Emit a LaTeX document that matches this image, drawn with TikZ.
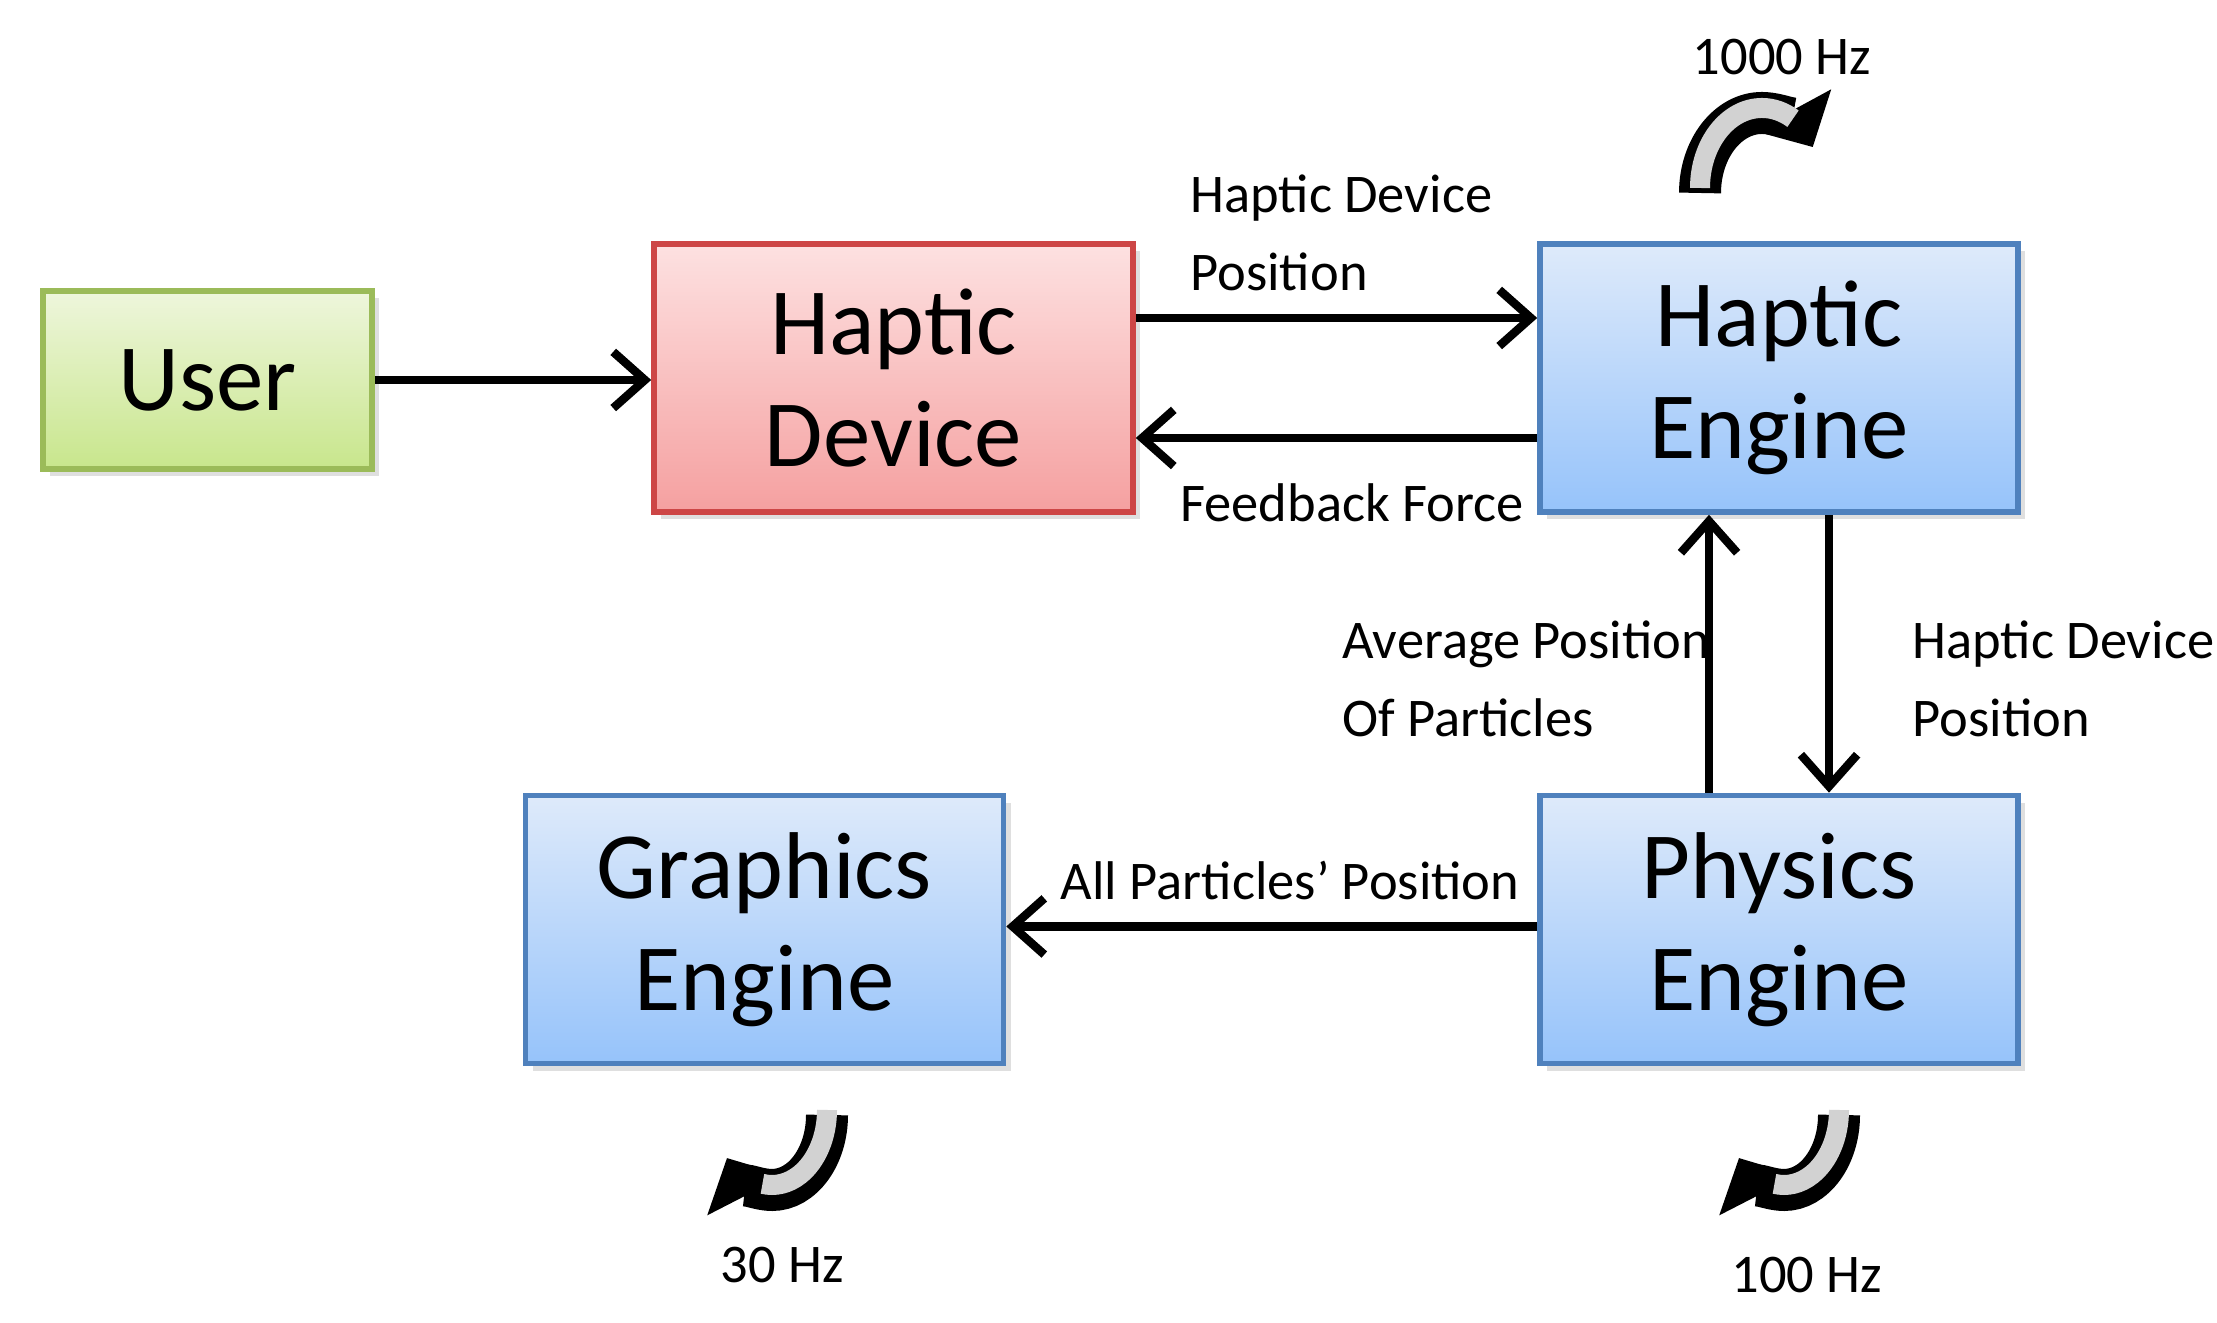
\documentclass[tikz,border=0pt]{standalone}
\usepackage{fontspec}
\setmainfont{Carlito}
\usetikzlibrary{arrows.meta,shadows}
\definecolor{bluebd}{RGB}{79,129,189}
\definecolor{bluetop}{RGB}{222,234,250}
\definecolor{bluebot}{RGB}{150,195,250}
\definecolor{redbd}{RGB}{205,70,70}
\definecolor{redtop}{RGB}{253,225,225}
\definecolor{redbot}{RGB}{245,160,160}
\definecolor{grnbd}{RGB}{155,187,89}
\definecolor{grntop}{RGB}{238,246,220}
\definecolor{grnbot}{RGB}{200,230,140}
\tikzset{blk/.style={draw, line width=1.6pt, align=center, font=\fontsize{27}{32}\selectfont, drop shadow={opacity=0.25, shadow xshift=2pt, shadow yshift=-2pt}}}
\tikzset{eng/.style={blk, draw=bluebd, top color=bluetop, bottom color=bluebot, minimum width=4.78cm, minimum height=2.68cm}}
\tikzset{l/.style={font=\fontsize{15.5}{22}\selectfont, align=left}}
\tikzset{flow/.style={line width=2.4pt, -{Straight Barb[length=9pt,width=16pt]}}}
\tikzset{loopa/.style={line width=0.42cm, -{Triangle[length=0.42cm,width=0.85cm]}}}
\tikzset{loopb/.style={line width=0.2cm, gray!35}}

\begin{document}
\begin{tikzpicture}
  \useasboundingbox (0,0) rectangle (22.17,13.23);
  \node[blk, draw=grnbd, top color=grntop, bottom color=grnbot, minimum width=3.29cm, minimum height=1.78cm] (U) at (2.075,9.43) {User};
  \node[blk, draw=redbd, top color=redtop, bottom color=redbot, minimum width=4.79cm, minimum height=2.68cm] (HD) at (8.935,9.45) {Haptic\\Device};
  \node[eng] (HE) at (17.79,9.45) {Haptic\\Engine};
  \node[eng] (GE) at (7.645,3.935) {Graphics\\Engine};
  \node[eng] (PE) at (17.79,3.935) {Physics\\Engine};

  \draw[flow] (U.east) -- (HD.west|-U.east);
  \draw[flow] ([yshift=0.6cm]HD.east) -- ([yshift=0.6cm]HE.west);
  \draw[flow] ([yshift=-0.6cm]HE.west) -- ([yshift=-0.6cm]HD.east);
  \draw[flow] ([xshift=-0.7cm]PE.north) -- ([xshift=-0.7cm]HE.south);
  \draw[flow] ([xshift=0.5cm]HE.south) -- ([xshift=0.5cm]PE.north);
  \draw[flow] ([yshift=0.03cm]PE.west) -- ([yshift=0.03cm]GE.east);

  \node[l, anchor=west] (t1) at (11.78,10.9) {Haptic Device\\ Position};
  \node[l, anchor=west] (t2) at (11.68,8.2) {Feedback Force};
  \node[l, anchor=west] (t3) at (13.3,6.44) {Average Position\\Of Particles};
  \node[l, anchor=west] (t4) at (19.0,6.44) {Haptic Device\\ Position};
  \node[l] (t5) at (12.9,4.42) {All Particles’ Position};

  % loops
  \node[l] (f1) at (17.82,12.66) {1000 Hz};
  \coordinate (a1) at (17.0,11.3);
  \draw[loopa] (a1) arc[start angle=180, end angle=35, x radius=0.62cm, y radius=0.8cm];
  \draw[loopb] ([yshift=0.05cm]a1) arc[start angle=180, end angle=60, x radius=0.62cm, y radius=0.8cm];

  \node[l] (f2) at (7.82,0.58) {30 Hz};
  \coordinate (a2) at (8.27,2.08);
  \draw[loopa] (a2) arc[start angle=0, end angle=-145, x radius=0.55cm, y radius=0.75cm];
  \draw[loopb] ([yshift=0.05cm]a2) arc[start angle=0, end angle=-100, x radius=0.55cm, y radius=0.75cm];

  \node[l] (f3) at (18.07,0.48) {100 Hz};
  \coordinate (a3) at (18.39,2.08);
  \draw[loopa] (a3) arc[start angle=0, end angle=-145, x radius=0.55cm, y radius=0.75cm];
  \draw[loopb] ([yshift=0.05cm]a3) arc[start angle=0, end angle=-100, x radius=0.55cm, y radius=0.75cm];
\end{tikzpicture}
\end{document}
